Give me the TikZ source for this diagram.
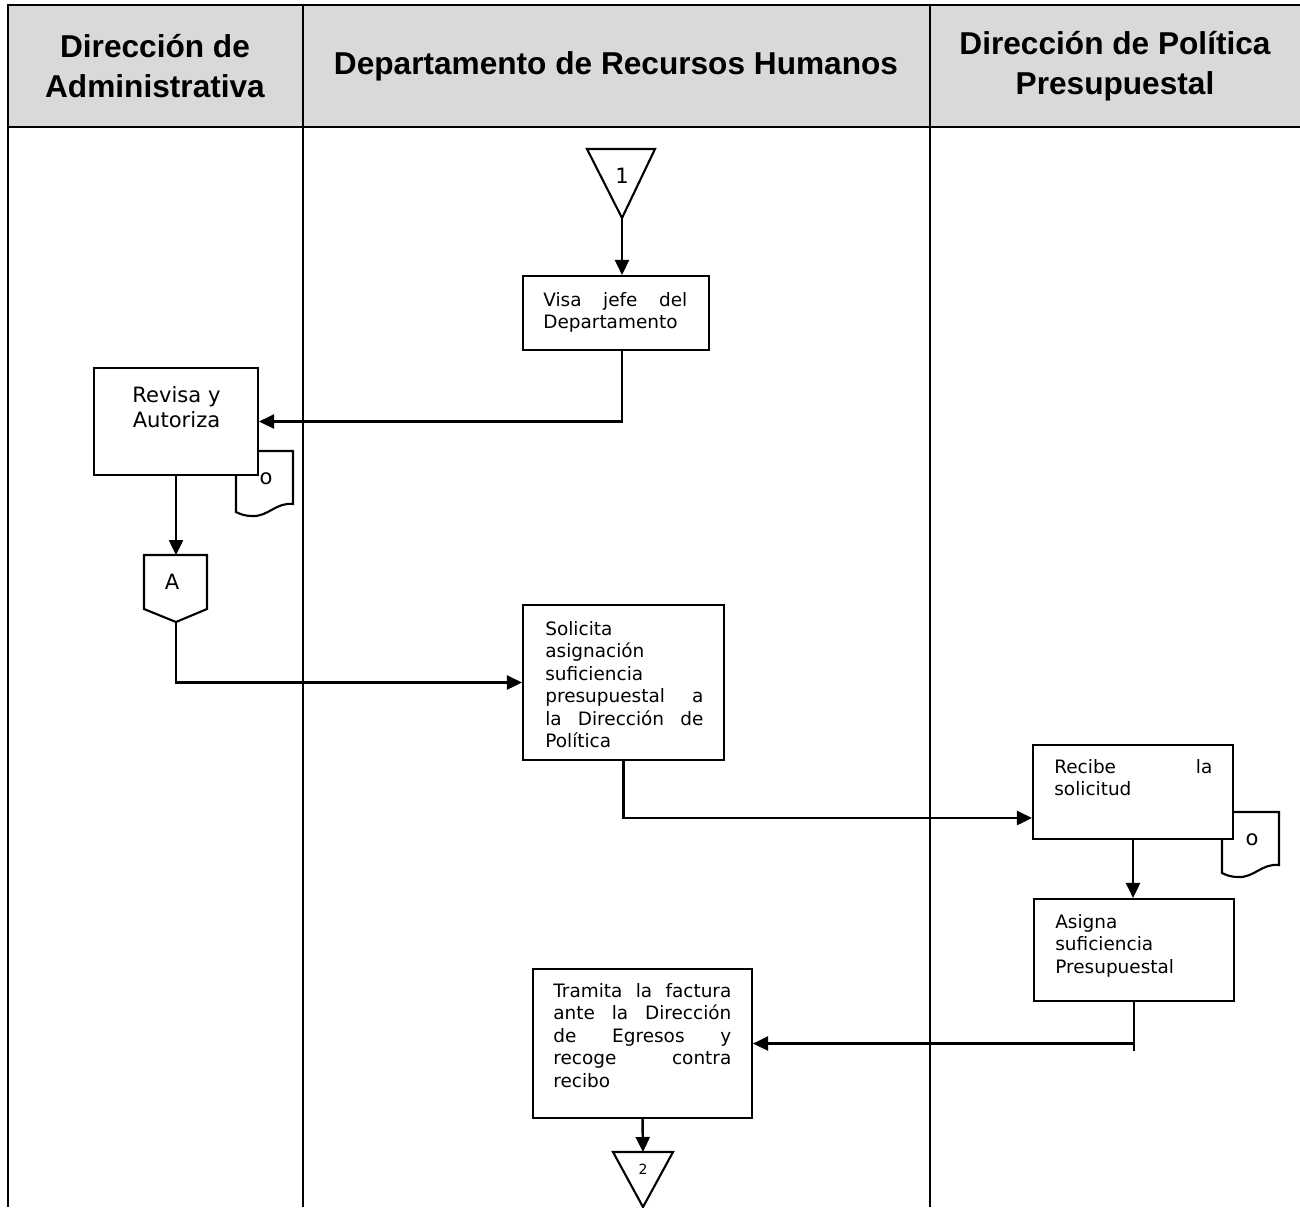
\documentclass[tikz,border=0pt]{standalone}
\usepackage{fontspec}
\setmainfont{DejaVu Sans}
\newfontfamily\headfont{Liberation Sans}
\usepackage{xcolor}
\usetikzlibrary{arrows.meta,positioning,calc}
\definecolor{headC}{gray}{0.85}
\tolerance=10000
\hbadness=10000

\begin{document}
\begin{tikzpicture}[x=0.02cm,y=-0.02cm,
  lane/.style={line width=1.6pt,line join=miter},
  proc/.style={draw,fill=white,line width=1.2pt,inner sep=0pt},
  txt/.style={anchor=north west,inner sep=0pt,align=justify,
    font=\fontsize{10.5}{12.8}\selectfont},
  big/.style={inner sep=0pt,font=\fontsize{12}{14.2}\selectfont},
  flow/.style={line width=1.4pt,-{Triangle[length=0.3cm,width=0.28cm]}},
  conn/.style={draw,fill=white,line width=1.2pt},
  head/.style={align=center,font=\headfont\bfseries\fontsize{18}{22.7}\selectfont}]
  \useasboundingbox (0,0) rectangle (1300,1207);

  % Lanes and header
  \fill[headC] (8,5) rectangle (1300,127);
  \draw[lane] (1300,5) -- (8,5) -- (8,1207);
  \draw[lane] (8,127) -- (1300,127);
  \draw[lane] (303,5) -- (303,1207);
  \draw[lane] (930,5) -- (930,1207);
  \node[head] (hAdm) at (155,66) {Dirección de\\Administrativa};
  \node[head] (hRH) at (616,66) {Departamento de Recursos Humanos};
  \node[head] (hPol) at (1115,66) {Dirección de Política\\Presupuestal};

  % Connector 1 (entry)
  \draw[conn] (587,149) -- (655,149) -- (622,218) -- cycle;
  \coordinate (c1) at (622,218);
  \node[big] (n1) at (622,176) {1};

  % Documents behind the boxes
  \foreach \dx/\dy in {0/0,986/361}{
    \draw[conn,shift={(\dx,\dy)}] (236,451) -- (293,451) -- (293,504)
      .. controls (276,502) and (268,517) .. (252,516)
      .. controls (245,516) and (240,514) .. (236,512) -- cycle;
  }
  \node[big] (o1) at (266,479) {o};
  \node[big] (o2) at (1252,840) {o};

  % Process boxes
  \node[proc,minimum width=3.72cm,minimum height=1.48cm] (visa) at (616,313) {};
  \node[txt,text width=2.88cm] (visaT) at (543,292) {Visa jefe del\linebreak Departamento};

  \node[proc,minimum width=3.28cm,minimum height=2.14cm] (revisa) at (176,421.5) {};
  \node[big,align=center,anchor=north] (revisaT) at (176.5,386) {Revisa y\\Autoriza};

  \node[proc,minimum width=4.02cm,minimum height=3.1cm] (soli) at (623.5,682.5) {};
  \node[txt,text width=3.16cm] (soliT) at (545,621)
    {Solicita\\asignación\\suficiencia\\presupuestal a\linebreak la Dirección de\linebreak Política};

  \node[proc,minimum width=4cm,minimum height=1.88cm] (recibe) at (1133,792) {};
  \node[txt,text width=3.16cm] (recibeT) at (1054,759) {Recibe la\linebreak solicitud};

  \node[proc,minimum width=4cm,minimum height=2.04cm] (asig) at (1134,950) {};
  \node[txt,text width=3.16cm] (asigT) at (1055,914) {Asigna\\suficiencia\\Presupuestal};

  \node[proc,minimum width=4.38cm,minimum height=2.98cm] (trami) at (642.5,1043.5) {};
  \node[txt,text width=3.56cm] (tramiT) at (553,983)
    {Tramita la factura\linebreak ante la Dirección\linebreak de Egresos y\linebreak recoge contra\linebreak recibo};

  % Off-page connector A
  \draw[conn] (144,555) -- (207,555) -- (207,609) -- (176,622) -- (144,609) -- cycle;
  \coordinate (cAtop) at (176,555);
  \coordinate (cAbot) at (176,622);
  \node[big] (nA) at (172,582) {A};

  % Connector 2 (exit)
  \draw[conn] (613,1152) -- (673,1152) -- (643,1207) -- cycle;
  \coordinate (c2) at (643,1152);
  \node[inner sep=0pt,font=\fontsize{8}{9}\selectfont] (n2) at (643,1169) {2};

  % Flow
  \coordinate (lvl) at (0,818);
  \draw[flow] (c1) -- (c1 |- visa.north);
  \draw[flow] (c1 |- visa.south) |- (revisa.east);
  \draw[flow] (revisa.south) -- (cAtop);
  \draw[flow] (cAbot) |- (soli.west);
  \draw[flow] (soli.south) |- (recibe.west |- lvl);
  \draw[flow] (recibe.south) -- (recibe.south |- asig.north);
  \draw[line width=1.4pt] (asig.south) -- ++(0,49);
  \draw[flow] (asig.south |- trami.east) -- (trami.east);
  \draw[flow] (trami.south) -- (c2);
\end{tikzpicture}
\end{document}
